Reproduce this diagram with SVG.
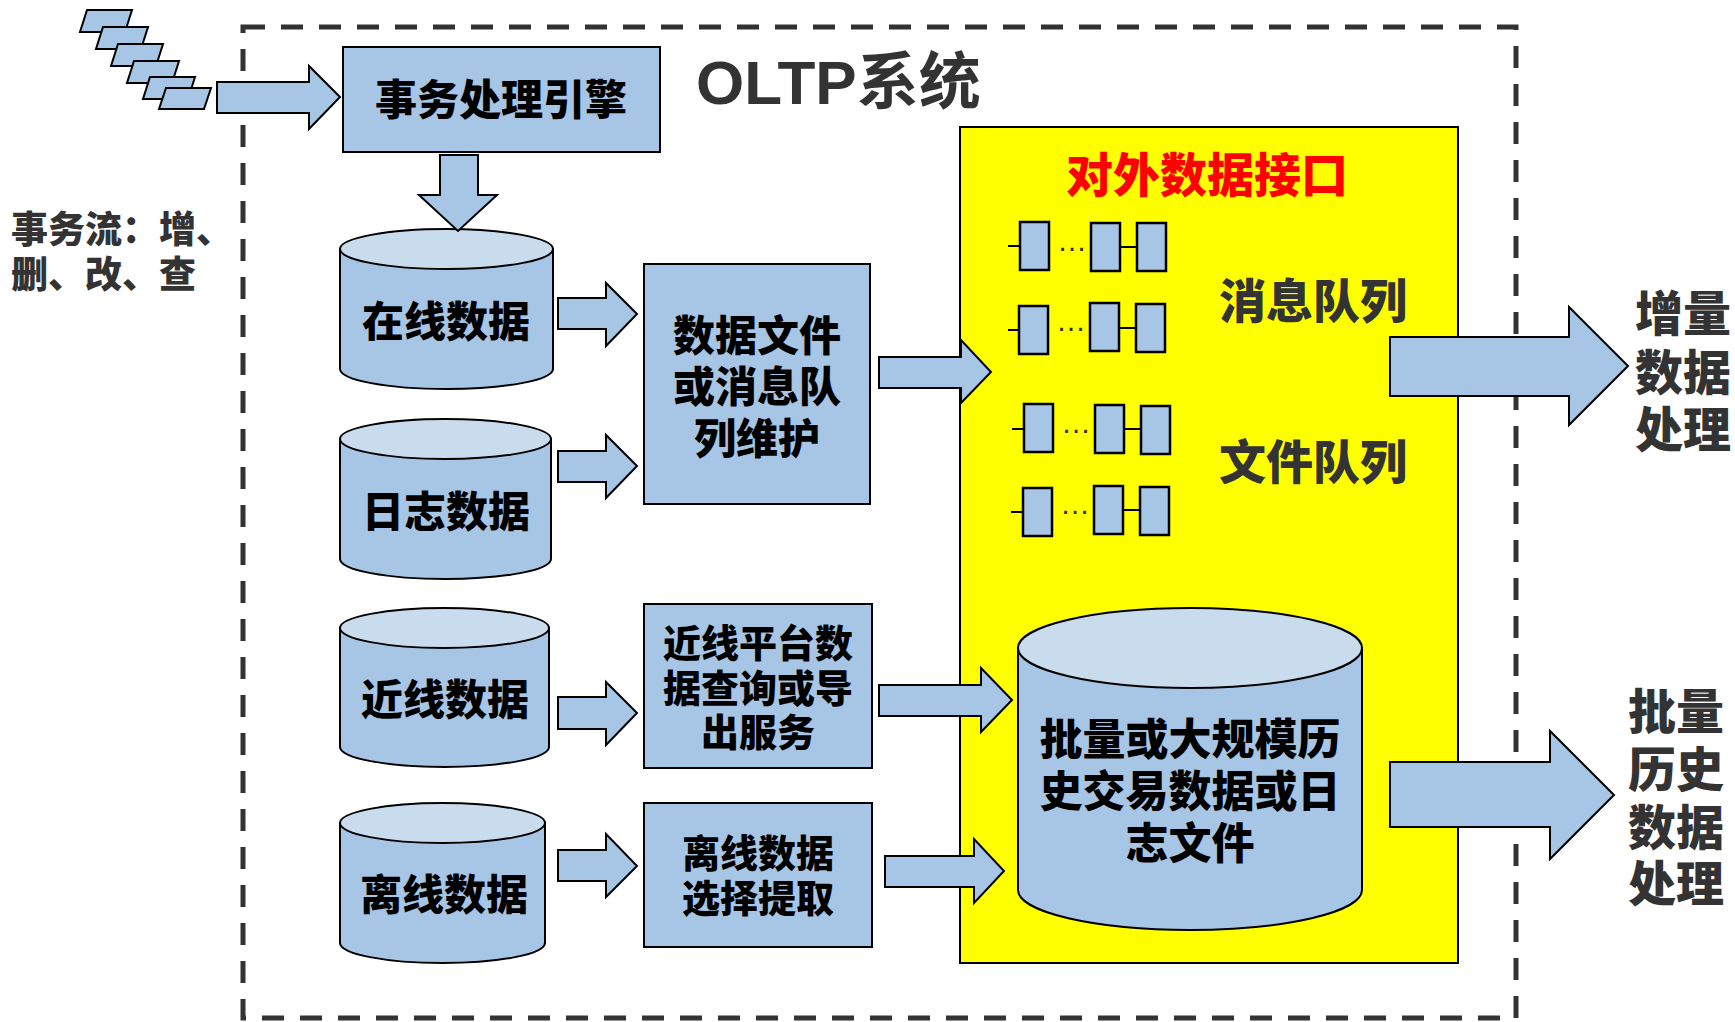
<svg xmlns="http://www.w3.org/2000/svg" width="1735" height="1022" viewBox="0 0 1735 1022">
<style>
.blue{fill:#A7C5E5;stroke:#000;stroke-width:2}
.top{fill:#C9DCEE;stroke:#000;stroke-width:2}
.arr{fill:#A7C5E5;stroke:#000;stroke-width:2;stroke-linejoin:miter}
.t{font-family:"Noto Sans CJK SC","Noto Sans CJK JP",sans-serif;font-weight:900;fill:#000;text-anchor:middle}
.g{font-family:"Noto Sans CJK SC","Noto Sans CJK JP",sans-serif;font-weight:900;fill:#333}
.qb{fill:#A7C5E5;stroke:#000;stroke-width:2.5}
.ql{stroke:#000;stroke-width:2;fill:none}
.dots{font-family:"Liberation Sans",sans-serif;font-size:30px;fill:#333;text-anchor:middle}
</style>
<rect width="1735" height="1022" fill="#fff"/>

<g id="oltp-system">
<rect x="243" y="27" width="1273" height="991" fill="none" stroke="#333" stroke-width="5" stroke-dasharray="22 16"/>
<text x="696" y="104" font-family="'Liberation Sans','Noto Sans CJK SC',sans-serif" font-weight="bold" font-size="62" fill="#333">OLTP系统</text>
</g>

<g id="transaction-stream">
<polygon class="blue" points="87,10 132,10 125,32 80,32"/>
<polygon class="blue" points="103,27 148,27 141,49 96,49"/>
<polygon class="blue" points="118,44 163,44 156,66 111,66"/>
<polygon class="blue" points="134,61 179,61 172,83 127,83"/>
<polygon class="blue" points="150,77 195,77 188,99 143,99"/>
<polygon class="blue" points="166,88 211,88 204,109 159,109"/>
<text class="g" font-size="37"><tspan x="11" y="243">事务流：增、</tspan><tspan x="11" y="288">删、改、查</tspan></text>
</g>

<g id="external-interface">
<rect x="960" y="127" width="498" height="836" fill="#FFFF00" stroke="#000" stroke-width="2"/>
<text class="t" font-size="47" x="1207" y="192" style="fill:#FF0000">对外数据接口</text>
</g>

<g id="message-queue">
<line class="ql" x1="1008" y1="246" x2="1020" y2="246"/>
<rect class="qb" x="1020" y="222" width="29" height="48"/>
<text class="dots" x="1072" y="251">…</text>
<rect class="qb" x="1091" y="223" width="29" height="48"/>
<line class="ql" x1="1120" y1="247" x2="1137" y2="247"/>
<rect class="qb" x="1137" y="223" width="29" height="48"/>
<line class="ql" x1="1008" y1="330" x2="1019" y2="330"/>
<rect class="qb" x="1019" y="306" width="29" height="48"/>
<text class="dots" x="1071" y="331">…</text>
<rect class="qb" x="1090" y="303" width="29" height="48"/>
<line class="ql" x1="1119" y1="328" x2="1136" y2="328"/>
<rect class="qb" x="1136" y="304" width="29" height="48"/>
<text class="g" font-size="47" x="1313" y="318" text-anchor="middle">消息队列</text>
</g>

<g id="file-queue">
<line class="ql" x1="1012" y1="429" x2="1024" y2="429"/>
<rect class="qb" x="1024" y="404" width="29" height="48"/>
<text class="dots" x="1076" y="433">…</text>
<rect class="qb" x="1095" y="405" width="29" height="48"/>
<line class="ql" x1="1124" y1="429" x2="1141" y2="429"/>
<rect class="qb" x="1141" y="406" width="29" height="48"/>
<line class="ql" x1="1011" y1="512" x2="1023" y2="512"/>
<rect class="qb" x="1023" y="488" width="29" height="48"/>
<text class="dots" x="1075" y="514">…</text>
<rect class="qb" x="1094" y="486" width="29" height="48"/>
<line class="ql" x1="1123" y1="510" x2="1140" y2="510"/>
<rect class="qb" x="1140" y="487" width="29" height="48"/>
<text class="g" font-size="47" x="1313" y="479" text-anchor="middle">文件队列</text>
</g>

<g id="txn-engine">
<rect class="blue" x="343" y="47" width="317" height="105"/>
<text class="t" font-size="42" x="501" y="115">事务处理引擎</text>
</g>

<g id="online-data">
<path class="blue" d="M340,249 L340,369 A106.5,20 0 0 0 553,369 L553,249 Z"/>
<ellipse class="top" cx="446.5" cy="249" rx="106.5" ry="20"/>
<text class="t" font-size="42" x="446" y="337">在线数据</text>
</g>

<g id="log-data">
<path class="blue" d="M340,439 L340,559 A105.5,20 0 0 0 551,559 L551,439 Z"/>
<ellipse class="top" cx="445.5" cy="439" rx="105.5" ry="20"/>
<text class="t" font-size="42" x="446" y="527">日志数据</text>
</g>

<g id="nearline-data">
<path class="blue" d="M340,628 L340,747 A104.5,20 0 0 0 549,747 L549,628 Z"/>
<ellipse class="top" cx="444.5" cy="628" rx="104.5" ry="20"/>
<text class="t" font-size="42" x="445" y="715">近线数据</text>
</g>

<g id="offline-data">
<path class="blue" d="M340,823 L340,943 A102.5,20 0 0 0 545,943 L545,823 Z"/>
<ellipse class="top" cx="442.5" cy="823" rx="102.5" ry="20"/>
<text class="t" font-size="42" x="444" y="910">离线数据</text>
</g>

<g id="file-mq-maintenance">
<rect class="blue" x="644" y="264" width="226" height="240"/>
<text class="t" font-size="42"><tspan x="757" y="351">数据文件</tspan><tspan x="757" y="402">或消息队</tspan><tspan x="757" y="454">列维护</tspan></text>
</g>

<g id="nearline-query">
<rect class="blue" x="644" y="604" width="228" height="164"/>
<text class="t" font-size="38"><tspan x="758" y="657">近线平台数</tspan><tspan x="758" y="702">据查询或导</tspan><tspan x="758" y="746">出服务</tspan></text>
</g>

<g id="offline-extract">
<rect class="blue" x="644" y="803" width="228" height="144"/>
<text class="t" font-size="38"><tspan x="758" y="867">离线数据</tspan><tspan x="758" y="912">选择提取</tspan></text>
</g>

<g id="batch-history">
<path class="blue" d="M1018,648 L1018,890 A172,40 0 0 0 1362,890 L1362,648 Z"/>
<ellipse class="top" cx="1190" cy="648" rx="172" ry="40"/>
<text class="t" font-size="43"><tspan x="1190" y="755">批量或大规模历</tspan><tspan x="1190" y="807">史交易数据或日</tspan><tspan x="1190" y="859">志文件</tspan></text>
</g>

<g id="incremental-processing">
<text class="g" font-size="48"><tspan x="1635" y="331">增量</tspan><tspan x="1635" y="390">数据</tspan><tspan x="1635" y="447">处理</tspan></text>
</g>

<g id="batch-processing">
<text class="g" font-size="48"><tspan x="1628" y="729">批量</tspan><tspan x="1628" y="787">历史</tspan><tspan x="1628" y="845">数据</tspan><tspan x="1628" y="901">处理</tspan></text>
</g>

<g id="connectors">
<polygon class="arr" points="217,82 309,82 309,66 340,97 309,129 309,113 217,113"/>
<polygon class="arr" points="440,155 478,155 478,195 497,195 458,231 419,195 440,195"/>
<polygon class="arr" points="558,298 606,298 606,283 637,314 606,346 606,329 558,329"/>
<polygon class="arr" points="558,451 606,451 606,435 637,466 606,498 606,482 558,482"/>
<polygon class="arr" points="879,357 961,357 961,340 991,372 961,403 961,388 879,388"/>
<polygon class="arr" points="558,697 606,697 606,682 637,713 606,745 606,729 558,729"/>
<polygon class="arr" points="558,850 606,850 606,834 637,866 606,897 606,881 558,881"/>
<polygon class="arr" points="879,685 981,685 981,668 1012,700 981,732 981,716 879,716"/>
<polygon class="arr" points="885,856 974,856 974,839 1004,871 974,903 974,887 885,887"/>
<polygon class="arr" points="1390,337 1569,337 1569,307 1628,366 1569,425 1569,396 1390,396"/>
<polygon class="arr" points="1390,762 1550,762 1550,731 1614,795 1550,859 1550,827 1390,827"/>
</g>
</svg>
